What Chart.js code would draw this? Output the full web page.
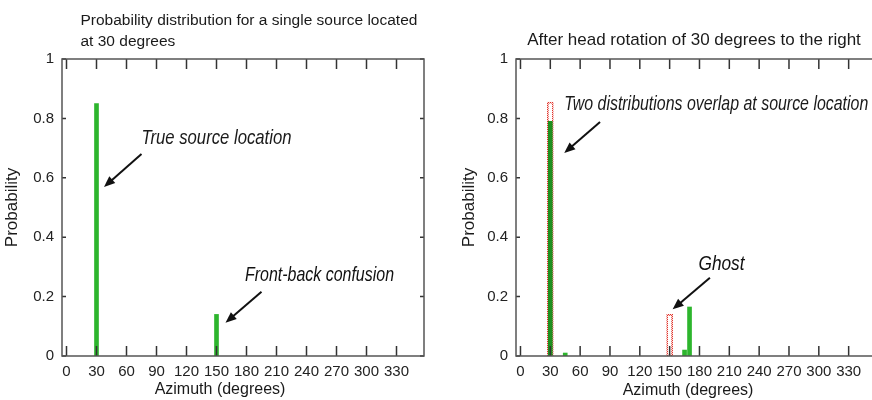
<!DOCTYPE html>
<html>
<head>
<meta charset="utf-8">
<script src="https://cdn.jsdelivr.net/npm/chart.js@4.4.1/dist/chart.umd.min.js"></script>
<style>
  html, body { margin: 0; padding: 0; background: #fff; overflow: hidden; width: 872px; height: 400px; }
  canvas { position: absolute; top: 0; }
  #leftChart { left: 0; }
  #rightChart { left: 436px; }
</style>
</head>
<body>
<canvas id="leftChart" width="436" height="400"></canvas>
<canvas id="rightChart" width="446" height="400"></canvas>
<script>
// tick labels
const azimuthTicks = [0, 30, 60, 90, 120, 150, 180, 210, 240, 270, 300, 330];
const probTicks = [0, 0.2, 0.4, 0.6, 0.8, 1];

// single source located at 30 degrees
const singleAz = [30, 150];
const singleProb = [0.85, 0.14];

// after head rotation: new distribution (green) and the original one (red outline)
const rotatedAz = [30, 45, 165, 170];
const rotatedProb = [0.79, 0.01, 0.02, 0.165];
const originalAz = [30, 150];
const originalProb = [0.855, 0.14];

const FONT = "'Liberation Sans', Arial, sans-serif";
Chart.defaults.font.family = FONT;

const toPoints = (xs, ys) => xs.map((x, i) => ({ x: x, y: ys[i] }));

// dotted red edge for the original distribution
function dottedRed() {
  const c = document.createElement('canvas');
  c.width = 2; c.height = 2;
  const g = c.getContext('2d');
  g.fillStyle = '#fbd6d4';
  g.fillRect(0, 0, 2, 2);
  g.fillStyle = '#e0332b';
  g.fillRect(0, 0, 1, 1);
  g.fillRect(1, 1, 1, 1);
  return g.createPattern(c, 'repeat');
}

function arrow(ctx, x0, y0, x1, y1) {
  const a = Math.atan2(y1 - y0, x1 - x0);
  const head = 11, w = 4.5;
  ctx.strokeStyle = '#111';
  ctx.fillStyle = '#111';
  ctx.lineWidth = 2;
  ctx.beginPath();
  ctx.moveTo(x0, y0);
  ctx.lineTo(x1 - Math.cos(a) * head * 0.8, y1 - Math.sin(a) * head * 0.8);
  ctx.stroke();
  ctx.beginPath();
  ctx.moveTo(x1, y1);
  ctx.lineTo(x1 - head * Math.cos(a) + w * Math.sin(a), y1 - head * Math.sin(a) - w * Math.cos(a));
  ctx.lineTo(x1 - head * Math.cos(a) - w * Math.sin(a), y1 - head * Math.sin(a) + w * Math.cos(a));
  ctx.closePath();
  ctx.fill();
}

// box round the plot and ticks pointing inwards, on all four sides
const frame = {
  id: 'frame',
  afterDatasetsDraw(chart) {
    const { ctx, chartArea: a, scales: { x, y } } = chart;
    ctx.save();
    ctx.strokeStyle = '#333';
    ctx.lineWidth = 1.5;
    ctx.beginPath();
    azimuthTicks.forEach(v => {
      const px = x.getPixelForValue(v);
      ctx.moveTo(px, a.bottom); ctx.lineTo(px, a.bottom - 10);
      ctx.moveTo(px, a.top); ctx.lineTo(px, a.top + 10);
    });
    probTicks.forEach(v => {
      const py = y.getPixelForValue(v);
      ctx.moveTo(a.left, py); ctx.lineTo(a.left + 4, py);
      ctx.moveTo(a.right, py); ctx.lineTo(a.right - 4, py);
    });
    ctx.stroke();
    ctx.strokeStyle = '#555';
    ctx.strokeRect(a.left, a.top, a.right - a.left, a.bottom - a.top);
    ctx.restore();
  }
};

// titles, x axis label and the italic notes with arrows
const notes = {
  id: 'notes',
  afterDraw(chart, args, opts) {
    const { ctx, scales: { x, y } } = chart;
    ctx.save();
    ctx.fillStyle = '#1a1a1a';
    ctx.textBaseline = 'alphabetic';
    ctx.font = opts.titleSize + 'px ' + FONT;
    ctx.textAlign = opts.titleAlign;
    opts.title.forEach((line, i) => ctx.fillText(line, opts.titleX, opts.titleY + i * 21));

    ctx.font = '16px ' + FONT;
    ctx.textAlign = 'center';
    ctx.fillText('Azimuth (degrees)', x.getPixelForValue(opts.xLabelAt), opts.xLabelY);

    opts.items.forEach(n => {
      ctx.save();
      ctx.font = 'italic 21px ' + FONT;
      ctx.textAlign = 'left';
      const sx = n.w / ctx.measureText(n.text).width;
      ctx.translate(x.getPixelForValue(n.x), y.getPixelForValue(n.y));
      ctx.scale(sx, 1);
      ctx.fillText(n.text, 0, 0);
      ctx.restore();
      arrow(ctx, x.getPixelForValue(n.from[0]), y.getPixelForValue(n.from[1]),
                 x.getPixelForValue(n.to[0]), y.getPixelForValue(n.to[1]));
    });
    ctx.restore();
  }
};

function scalesFor(yWidth, yTitlePad) {
  return {
    x: {
      type: 'linear',
      min: -4.5,
      max: 357.5,
      offset: false,
      grid: { display: false, drawTicks: false },
      border: { display: false },
      afterBuildTicks: s => { s.ticks = azimuthTicks.map(v => ({ value: v })); },
      afterFit: s => { s.height = 44; },
      ticks: { font: { size: 15 }, color: '#222', padding: 7, maxRotation: 0, autoSkip: false, callback: v => v }
    },
    y: {
      min: 0,
      max: 1,
      grid: { display: false, drawTicks: false },
      border: { display: false },
      afterBuildTicks: s => { s.ticks = probTicks.map(v => ({ value: v })); },
      afterFit: s => { s.width = yWidth; },
      ticks: { font: { size: 15 }, color: '#222', padding: 8, callback: v => v },
      title: { display: true, text: 'Probability', font: { size: 17 }, color: '#1a1a1a', padding: { top: yTitlePad, bottom: 0 } }
    }
  };
}

new Chart(document.getElementById('leftChart').getContext('2d'), {
  type: 'bar',
  data: {
    datasets: [{
      data: toPoints(singleAz, singleProb),
      backgroundColor: '#2db52d',
      barThickness: 4,
      grouped: false
    }]
  },
  options: {
    responsive: false,
    animation: false,
    layout: { padding: { top: 59, right: 12, left: 0, bottom: 0 } },
    scales: scalesFor(62, 2),
    plugins: {
      legend: { display: false },
      tooltip: { enabled: false },
      notes: {
        title: ['Probability distribution for a single source located', 'at 30 degrees'],
        titleSize: 15.5, titleAlign: 'left', titleX: 80.5, titleY: 25,
        xLabelAt: 153.5, xLabelY: 393.5,
        items: [
          { text: 'True source location', x: 75, y: 0.715, w: 150, from: [75, 0.68], to: [37.5, 0.569] },
          { text: 'Front-back confusion', x: 178.5, y: 0.2525, w: 149, from: [195, 0.2165], to: [159, 0.112] }
        ]
      }
    }
  },
  plugins: [frame, notes]
});

new Chart(document.getElementById('rightChart').getContext('2d'), {
  type: 'bar',
  data: {
    datasets: [{
      data: toPoints(rotatedAz, rotatedProb),
      backgroundColor: ['#1f8f1f', '#2db52d', '#2db52d', '#2db52d'],
      barThickness: 4,
      grouped: false
    }, {
      data: toPoints(originalAz, originalProb),
      backgroundColor: 'rgba(255,255,255,0)',
      borderColor: dottedRed(),
      borderWidth: 1,
      borderSkipped: false,
      barThickness: 6,
      grouped: false
    }]
  },
  options: {
    responsive: false,
    animation: false,
    layout: { padding: { top: 59, right: 6, left: 0, bottom: 0 } },
    scales: scalesFor(80, 23),
    plugins: {
      legend: { display: false },
      tooltip: { enabled: false },
      notes: {
        title: ['After head rotation of 30 degrees to the right'],
        titleSize: 17, titleAlign: 'center', titleX: 258, titleY: 45,
        xLabelAt: 168.5, xLabelY: 395,
        items: [
          { text: 'Two distributions overlap at source location', x: 44, y: 0.828, w: 304, from: [80, 0.788], to: [44, 0.6835] },
          { text: 'Ghost', x: 179, y: 0.29, w: 46, from: [190.5, 0.2636], to: [153, 0.157] }
        ]
      }
    }
  },
  plugins: [frame, notes]
});
</script>
</body>
</html>
